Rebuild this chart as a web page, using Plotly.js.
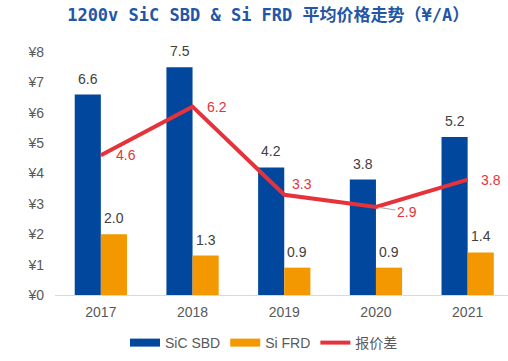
<!DOCTYPE html>
<html>
<head>
<meta charset="utf-8">
<script src="https://cdn.plot.ly/plotly-3.0.1.min.js"></script>
<style>html,body{margin:0;padding:0;background:#fff;}#chart{width:508px;height:361px;}</style>
</head>
<body>
<div id="chart"></div>
<script>
// ---- data ----
const categories = ['2017', '2018', '2019', '2020', '2021'];
const sicSBD = [6.6, 7.5, 4.2, 3.8, 5.2];
const siFRD = [2.0, 1.3, 0.9, 0.9, 1.4];
const priceGap = [4.6, 6.2, 3.3, 2.9, 3.8];
const seriesNames = ['SiC SBD', 'Si FRD', '报价差'];
const titleText = '1200v SiC SBD & Si FRD 平均价格走势（¥/A）';

// ---- styles ----
const BLUE = '#00479D';
const ORANGE = '#F39800';
const RED = '#E5323B';
const GRAY = '#595959';
const DARK = '#404040';
const LATIN = 'Liberation Sans, Arial, sans-serif';
// label placement for line values: [xshift, yshift, arrow]
const gapLabelPos = [[13, 0, false], [12, 0, false], [6, 11, false], [31, -5, true], [11, 0, false]];

const traces = [
  {type: 'bar', x: categories, y: sicSBD, name: seriesNames[0], marker: {color: BLUE}, showlegend: false, hoverinfo: 'none'},
  {type: 'bar', x: categories, y: siFRD, name: seriesNames[1], marker: {color: ORANGE}, showlegend: false, hoverinfo: 'none'},
  {type: 'scatter', mode: 'lines', x: categories, y: priceGap, name: seriesNames[2], line: {color: RED, width: 4}, showlegend: false, hoverinfo: 'none'},
  // legend entries
  {type: 'scatter', mode: 'lines', x: [categories[0]], y: [null], name: seriesNames[0], line: {color: BLUE, width: 8}},
  {type: 'scatter', mode: 'lines', x: [categories[0]], y: [null], name: seriesNames[1], line: {color: ORANGE, width: 8}},
  {type: 'scatter', mode: 'lines', x: [categories[0]], y: [null], name: seriesNames[2], line: {color: RED, width: 4}}
];

const annotations = [];
const barShift = 13;
categories.forEach((c, i) => {
  // category axis: position by category index
  annotations.push({x: i, y: sicSBD[i], xref: 'x', yref: 'y', text: sicSBD[i].toFixed(1), showarrow: false,
    xshift: -barShift, yshift: 16, yanchor: 'middle', font: {family: LATIN, size: 14, color: DARK}});
  annotations.push({x: i, y: siFRD[i], xref: 'x', yref: 'y', text: siFRD[i].toFixed(1), showarrow: false,
    xshift: barShift, yshift: 16, yanchor: 'middle', font: {family: LATIN, size: 14, color: DARK}});
  const p = gapLabelPos[i];
  if (p[2]) {
    annotations.push({x: i, y: priceGap[i], xref: 'x', yref: 'y', text: priceGap[i].toFixed(1), showarrow: true,
      arrowhead: 0, arrowwidth: 1, arrowcolor: '#A6A6A6', ax: p[0], ay: -p[1], standoff: 2,
      font: {family: LATIN, size: 14, color: RED}});
  } else {
    annotations.push({x: i, y: priceGap[i], xref: 'x', yref: 'y', text: priceGap[i].toFixed(1), showarrow: false,
      xanchor: 'left', xshift: p[0], yshift: p[1], yanchor: 'middle', font: {family: LATIN, size: 14, color: RED}});
  }
});

const layout = {
  width: 508, height: 361,
  margin: {l: 55, r: 0, t: 52, b: 66},
  paper_bgcolor: '#fff', plot_bgcolor: '#fff',
  barmode: 'group', bargap: 0.43, bargroupgap: 0,
  title: {text: '<b>' + titleText + '</b>', xref: 'container', yref: 'container', x: 0.528, y: 0.958,
    xanchor: 'center', yanchor: 'middle',
    font: {family: 'DejaVu Sans Mono, Noto Sans CJK SC, monospace', size: 17, color: '#2356A6'}},
  xaxis: {type: 'category', range: [-0.5, 4.44], showline: true, linecolor: '#D9D9D9', linewidth: 1,
    showgrid: false, zeroline: false, ticks: '', ticklabelstandoff: 4,
    tickfont: {family: LATIN, size: 14, color: GRAY}},
  yaxis: {range: [0, 8], dtick: 1, tickprefix: '¥', showgrid: false, zeroline: false, showline: false,
    ticks: '', ticklabelstandoff: 10, tickfont: {family: LATIN, size: 14, color: GRAY}},
  showlegend: true,
  legend: {orientation: 'h', xref: 'container', yref: 'container', x: 125 / 508, y: 1 - 343 / 361,
    xanchor: 'left', yanchor: 'middle', itemwidth: 30,
    font: {family: 'Liberation Sans, Noto Sans CJK SC, sans-serif', size: 14, color: GRAY}},
  annotations: annotations,
  hovermode: false
};

Plotly.newPlot('chart', traces, layout, {staticPlot: true, displayModeBar: false});
</script>
</body>
</html>
